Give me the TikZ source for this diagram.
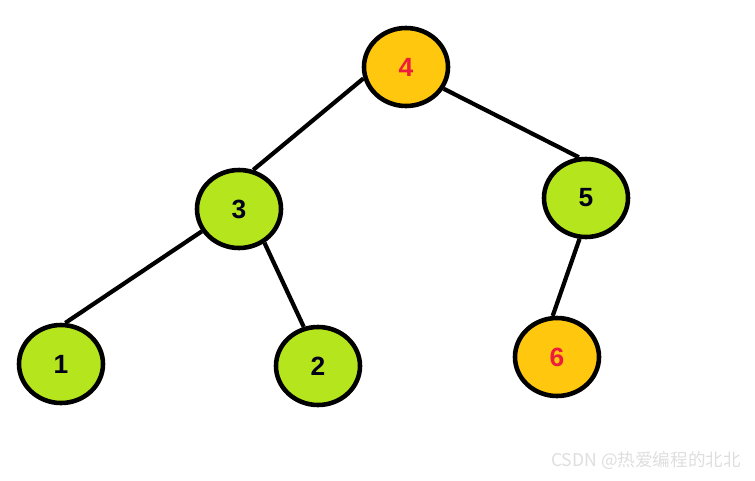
\documentclass[tikz,border=0pt]{standalone}
\usepackage{fontspec}
\setmainfont{Liberation Sans}
\newfontfamily\cjkfont{Noto Sans CJK SC}
\usepackage{xcolor}
\usepackage{tikz}
\usetikzlibrary{shapes.geometric}
\definecolor{greencol}{RGB}{181, 229, 29}
\definecolor{orangecol}{RGB}{255, 199, 14}
\definecolor{redtext}{RGB}{237, 28, 60}
\definecolor{marktext}{RGB}{222, 222, 222}

\begin{document}
\begin{tikzpicture}[
        treenode/.style={ellipse, draw, line width=2.6pt, minimum width=1.68cm, minimum height=1.56cm, inner sep=0pt, font=\fontsize{15}{17}\selectfont\bfseries},
        greennode/.style={treenode, fill=greencol, text=black!90!blue},
        orangenode/.style={treenode, fill=orangecol, text=redtext},
        edge/.style={line width=2.4pt}
    ]
    \useasboundingbox (0,0) rectangle (15.1,9.6);
    
    % Nodes
    \node[orangenode] (n4) at (8.12,8.26) {4};
    \node[greennode] (n3) at (4.78,5.42) {3};
    \node[greennode] (n5) at (11.72,5.64) {5};
    \node[greennode] (n1) at (1.22,2.32) {1};
    \node[greennode] (n2) at (6.36,2.28) {2};
    \node[orangenode] (n6) at (11.14,2.46) {6};
    
    % Connectors
    \draw[edge] (n4.195) -- (n3.70);
    \draw[edge] (n4.-30) -- (n5.100);
    \draw[edge] (n3.211) -- (n1.84);
    \draw[edge] (n3.-53) -- (n2.110);
    \draw[edge] (n5.-99) -- (n6.96);
    
    % Watermark
    \node[text=marktext, font=\cjkfont\fontsize{10}{12}\selectfont] (mark) at (12.92,0.38) {CSDN @热爱编程的北北};
    
\end{tikzpicture}
\end{document}
